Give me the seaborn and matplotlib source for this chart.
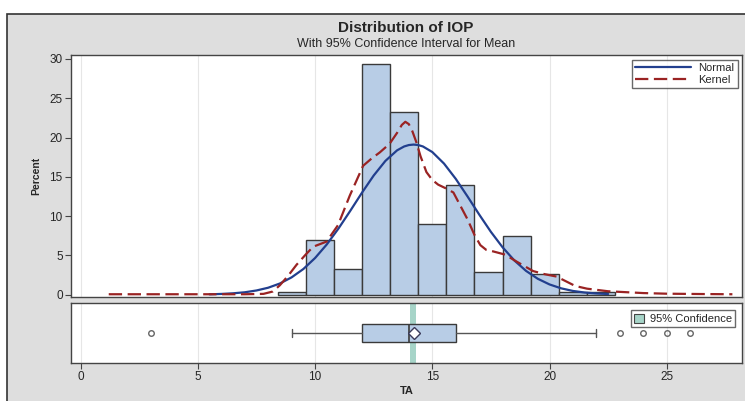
import numpy as np
import pandas as pd
import matplotlib
matplotlib.use("Agg")
import matplotlib.pyplot as plt
from matplotlib.patches import Patch, Rectangle
from matplotlib.lines import Line2D
import seaborn as sns

# histogram of TA (percent per bin)
bin_edges = [8.4, 9.6, 10.8, 12.0, 13.2, 14.4, 15.6, 16.8, 18.0, 19.2, 20.4, 21.6, 22.8]
bin_pct = [0.4, 6.9, 3.3, 29.4, 23.2, 9.0, 13.9, 2.9, 7.5, 2.6, 0.4, 0.4]

# fitted normal curve
normal_x = [5.5, 6.0, 6.5, 7.0, 7.5, 8.0, 8.5, 9.0, 9.5, 10.0, 10.5, 11.0, 11.5, 12.0,
            12.5, 13.0, 13.5, 13.8, 14.0, 14.2, 14.4, 14.6, 15.0, 15.5, 16.0, 16.5, 17.0, 17.5,
            18.0, 18.5, 19.0, 19.5, 20.0, 20.5, 21.0, 21.5, 22.0, 22.5]
normal_y = [0.04, 0.09, 0.17, 0.30, 0.53, 0.88, 1.42, 2.20, 3.26, 4.66, 6.39, 8.42, 10.66, 12.97,
            15.16, 17.02, 18.37, 18.86, 19.04, 19.1, 19.04, 18.86, 18.15, 16.68, 14.74, 12.51, 10.2, 7.99,
            6.02, 4.35, 3.02, 2.02, 1.30, 0.80, 0.47, 0.27, 0.15, 0.08]

# kernel density curve
kernel_x = [1.2, 4.0, 7.0, 7.8, 8.2, 8.5, 8.85, 9.21, 9.6, 9.92, 10.49, 10.98, 11.48, 12.05,
            12.4, 12.76, 13.18, 13.5, 13.7, 13.85, 14.0, 14.15, 14.32, 14.5, 14.75, 15.0, 15.25, 15.6,
            15.9, 16.2, 16.5, 16.8, 17.05, 17.3, 17.6, 18.1, 18.6, 19.3, 19.8, 20.3, 20.7,
            21.1, 21.6, 22.5, 24.0, 25.0, 26.4, 27.8]
kernel_y = [0.05, 0.05, 0.05, 0.1, 0.4, 1.2, 2.4, 3.8, 5.1, 6.1, 6.75, 8.85, 12.6, 16.4,
            17.3, 18.1, 19.2, 20.6, 21.6, 22.0, 21.7, 20.8, 19.4, 17.6, 15.6, 14.6, 14.0, 13.5,
            13.0, 11.3, 9.6, 7.6, 6.3, 5.7, 5.5, 5.1, 4.2, 3.0, 2.6, 2.3, 1.7,
            1.1, 0.76, 0.43, 0.2, 0.12, 0.08, 0.05]

# box plot summary
box_stats = dict(q1=12.0, med=14.0, q3=16.0, whislo=9.0, whishi=22.0, mean=14.2)
outliers = [3, 23, 24, 25, 26]
ci_mean = (14.07, 14.29)

x_ticks = [0, 5, 10, 15, 20, 25]
y_ticks = [0, 5, 10, 15, 20, 25, 30]

sns.set_style("white")
plt.rcParams['font.family'] = ['Liberation Sans', 'DejaVu Sans']

W, H = 745, 401
fig = plt.figure(figsize=(W / 100, H / 100), dpi=100, facecolor='white')
fig.patches.append(Rectangle((7 / W, -0.05), 1.1, 1 - 14 / H + 0.05, transform=fig.transFigure,
                             facecolor='#dedede', edgecolor='#333333', lw=1.2, zorder=-10))

def fx(px):
    return px / W

def fy(py):
    return 1 - py / H

ax = fig.add_axes([fx(71), fy(297), fx(742) - fx(71), fy(55) - fy(297)])
ax2 = fig.add_axes([fx(71), fy(363), fx(742) - fx(71), fy(303) - fy(363)])

centers = [(a + b) / 2 for a, b in zip(bin_edges[:-1], bin_edges[1:])]
hist_df = pd.DataFrame({'TA': centers, 'pct': bin_pct})
sns.histplot(data=hist_df, x='TA', weights='pct', bins=bin_edges, ax=ax,
             color='#b8cde6', edgecolor='#3a3a3a', linewidth=1.0, alpha=1.0)

sns.lineplot(x=normal_x, y=normal_y, ax=ax, color='#223f8e', lw=1.6, sort=False)
sns.lineplot(x=kernel_x, y=kernel_y, ax=ax, color='#9a2323', lw=1.6, sort=False)
ax.lines[-1].set_linestyle((0, (6, 2.5)))

xmin, xmax = -0.41, 28.21
for a in (ax, ax2):
    a.set_xlim(xmin, xmax)
    a.set_facecolor('white')
    a.grid(axis='x', color='#e6e6e6', lw=0.8)
    a.grid(axis='y', visible=False)
    a.set_axisbelow(True)
    for s in a.spines.values():
        s.set_color('#444444')
        s.set_linewidth(1.0)
        s.set_visible(True)

ax.set_ylim(-0.3, 30.5)
ax.set_yticks(y_ticks)
ax.set_xticks(x_ticks)
ax.tick_params(axis='x', bottom=False, labelbottom=False)
ax.tick_params(axis='y', left=True, direction='out', length=4, width=0.8,
               color='#444444', labelsize=8.5, pad=2)
ax.set_xlabel('')
ax.set_ylabel('Percent', fontsize=7.5, fontweight='bold', labelpad=6)

leg_handles = [Line2D([], [], color='#223f8e', lw=1.6),
               Line2D([], [], color='#9a2323', lw=1.6, ls=(0, (6, 2.5)))]
leg = ax.legend(leg_handles, ['Normal', 'Kernel'], loc='upper right', fontsize=8,
                handlelength=5.0, frameon=True, fancybox=False, borderpad=0.3,
                labelspacing=0.15, handletextpad=0.7, borderaxespad=0.3,
                bbox_to_anchor=(0.9985, 0.993))
leg.get_frame().set_edgecolor('#444444')
leg.get_frame().set_linewidth(1.0)

# bottom panel: box plot with 95% CI band for the mean
ax2.set_ylim(-1, 1)
ax2.axvspan(ci_mean[0], ci_mean[1], color='#a6d4c8', zorder=0.5, lw=0)
stats = dict(box_stats, fliers=outliers)
ax2.bxp([stats], positions=[0], vert=False, widths=0.6, showmeans=True,
        patch_artist=True, capwidths=0.26,
        boxprops=dict(facecolor='#b8cde6', edgecolor='#3a3a3a', lw=1.0),
        medianprops=dict(color='#3a3a3a', lw=1.2),
        whiskerprops=dict(color='#555555', lw=1.0),
        capprops=dict(color='#555555', lw=1.0),
        meanprops=dict(marker='D', markerfacecolor='white', markeredgecolor='#3a3a5a',
                       markersize=6.5, markeredgewidth=1.0),
        flierprops=dict(marker='o', markerfacecolor='none', markeredgecolor='#666666',
                        markersize=4, markeredgewidth=1.0))
ax2.set_yticks([])
ax2.set_xticks(x_ticks)
ax2.set_xticklabels([str(t) for t in x_ticks])
ax2.tick_params(axis='x', bottom=True, direction='out', length=4, width=0.8,
                color='#444444', labelsize=8.5, pad=2)
ax2.set_xlabel('TA', fontsize=8, fontweight='bold', labelpad=2)

leg2 = ax2.legend([Patch(facecolor='#a6d4c8', edgecolor='#444444', lw=0.8)], ['95% Confidence'],
                  loc='upper right', fontsize=8, frameon=True, fancybox=False,
                  handlelength=0.9, handleheight=0.9, borderpad=0.3, handletextpad=0.5,
                  bbox_to_anchor=(0.9985, 0.97))
leg2.get_frame().set_edgecolor('#444444')
leg2.get_frame().set_linewidth(1.0)

fig.text(fx(406), fy(28), 'Distribution of IOP', ha='center', va='center',
         fontsize=11, fontweight='bold')
fig.text(fx(406), fy(44), 'With 95% Confidence Interval for Mean', ha='center', va='center',
         fontsize=9)

fig.savefig('out.png', dpi=100, facecolor=fig.get_facecolor())
